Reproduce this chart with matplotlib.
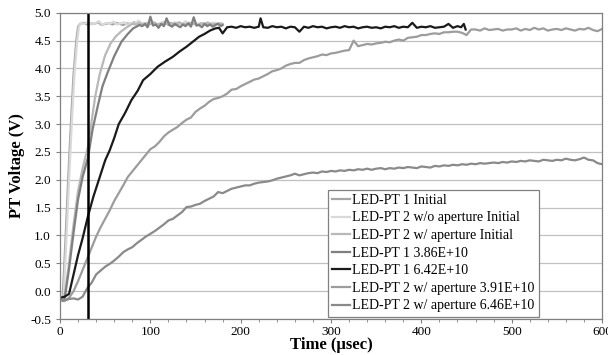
import numpy as np
import matplotlib.pyplot as plt

plt.rcParams['font.family'] = ['Liberation Serif', 'DejaVu Serif']

# ---- data (time in usec, voltage in V) ----
t_pt1_init = [0, 2, 3, 6, 9, 12, 15, 18, 20, 22, 26, 30, 34, 38, 42, 46, 50, 54, 58, 62, 66, 70,
              74, 78, 82, 86, 90, 94, 98, 102, 106, 110, 114, 118, 122, 126, 130, 134, 138,
              142, 146, 150, 154, 158, 162, 166, 170, 174, 178]
v_pt1_init = [-0.15, -0.14, -0.1, 0.9, 2.0, 3.0, 3.9, 4.5, 4.75, 4.8, 4.82, 4.79, 4.81, 4.8,
              4.83, 4.78, 4.8, 4.81, 4.79, 4.82, 4.8, 4.78, 4.81, 4.8, 4.83, 4.79, 4.8, 4.81,
              4.78, 4.82, 4.8, 4.79, 4.81, 4.8, 4.82, 4.78, 4.8, 4.81, 4.79, 4.82, 4.8, 4.8,
              4.78, 4.81, 4.8, 4.79, 4.82, 4.8, 4.8]

t_pt2_noap_init = [0, 2, 4, 7, 10, 13, 16, 19, 21, 23, 27, 31, 35, 39, 43, 47, 51, 55, 59, 63,
                   67, 71, 75, 79, 83, 87, 91, 95, 99, 103, 107, 111, 115, 119, 123, 127, 131,
                   135, 139, 143, 147, 151, 155, 159, 163, 167, 171, 175, 179]
v_pt2_noap_init = [-0.16, -0.15, -0.1, 0.9, 2.0, 3.0, 3.9, 4.5, 4.75, 4.82, 4.8, 4.84, 4.79,
                   4.81, 4.85, 4.78, 4.82, 4.8, 4.84, 4.79, 4.81, 4.83, 4.78, 4.82, 4.8, 4.86,
                   4.79, 4.81, 4.83, 4.8, 4.78, 4.82, 4.84, 4.8, 4.79, 4.83, 4.81, 4.8, 4.85,
                   4.78, 4.82, 4.8, 4.81, 4.79, 4.83, 4.8, 4.82, 4.8, 4.81]

t_pt2_ap_init = [0, 3, 5, 10, 15, 20, 25, 31, 35, 39, 44, 50, 56, 62, 68, 74, 80, 84, 88, 92,
                 96, 100, 104, 108, 112, 116, 120, 124, 128, 132, 136, 140, 144, 148, 152, 156,
                 160, 164, 168, 172, 176, 180]
v_pt2_ap_init = [-0.15, -0.16, -0.1, 0.5, 1.2, 1.8, 2.2, 2.6, 3.05, 3.5, 3.9, 4.24, 4.45, 4.58,
                 4.67, 4.74, 4.8, 4.79, 4.82, 4.78, 4.81, 4.8, 4.83, 4.79, 4.8, 4.82, 4.78,
                 4.81, 4.8, 4.83, 4.79, 4.8, 4.82, 4.8, 4.78, 4.81, 4.8, 4.82, 4.79, 4.8, 4.81, 4.8]

t_pt1_386 = [0, 3, 5, 10, 15, 20, 25, 31, 36, 42, 47, 53, 60, 68, 75, 81, 88, 91, 94, 97, 100,
             103, 106, 109, 112, 115, 118, 121, 124, 127, 130, 133, 136, 139, 142, 145, 148,
             151, 154, 157, 160, 163, 166, 169, 172, 175, 178, 180]
v_pt1_386 = [-0.12, -0.18, -0.15, 0.4, 1.05, 1.65, 2.05, 2.4, 2.9, 3.34, 3.68, 3.94, 4.22, 4.48,
             4.62, 4.72, 4.78, 4.76, 4.8, 4.74, 4.93, 4.77, 4.79, 4.73, 4.8, 4.76, 4.9, 4.78,
             4.75, 4.8, 4.77, 4.74, 4.79, 4.76, 4.81, 4.75, 4.92, 4.77, 4.78, 4.74, 4.8, 4.76,
             4.79, 4.75, 4.78, 4.8, 4.76, 4.78]

t_pt1_642 = [0, 5, 10, 15, 20, 25, 31, 37, 44, 50, 55, 60, 65, 72, 79, 86, 92, 100, 108, 116,
             125, 132, 140, 147, 154, 160, 166, 172, 176, 180, 185, 190, 195, 200, 205, 210,
             215, 220, 222, 225, 230, 235, 240, 245, 250, 255, 260, 265, 270, 275, 280, 285,
             290, 295, 300, 305, 310, 315, 320, 325, 330, 335, 340, 345, 350, 355, 360, 365,
             370, 375, 380, 385, 390, 395, 400, 405, 410, 415, 420, 425, 430, 435, 440, 444,
             447, 449]
v_pt1_642 = [-0.12, -0.1, -0.05, 0.3, 0.65, 0.95, 1.35, 1.7, 2.05, 2.35, 2.53, 2.75, 3.0, 3.2,
             3.43, 3.6, 3.79, 3.9, 4.03, 4.12, 4.21, 4.3, 4.39, 4.48, 4.57, 4.62, 4.68, 4.72,
             4.73, 4.63, 4.74, 4.75, 4.73, 4.76, 4.74, 4.75, 4.73, 4.75, 4.9, 4.74, 4.73, 4.76,
             4.74, 4.75, 4.72, 4.75, 4.74, 4.66, 4.75, 4.73, 4.76, 4.74, 4.75, 4.72, 4.74,
             4.75, 4.73, 4.76, 4.74, 4.75, 4.72, 4.74, 4.75, 4.73, 4.74, 4.72, 4.75, 4.74,
             4.76, 4.73, 4.75, 4.74, 4.82, 4.73, 4.75, 4.74, 4.76, 4.73, 4.74, 4.75, 4.8,
             4.73, 4.76, 4.74, 4.8, 4.7]

t_pt2_ap_391 = list(range(0, 605, 5))
v_pt2_ap_391 = [-0.15, -0.17, -0.12, 0.0, 0.18, 0.38, 0.58, 0.78, 0.98, 1.15, 1.3, 1.45, 1.62,
                1.76, 1.9, 2.05, 2.15, 2.25, 2.35, 2.45, 2.55, 2.6, 2.68, 2.78, 2.85, 2.9, 2.95,
                3.02, 3.08, 3.12, 3.22, 3.28, 3.33, 3.4, 3.45, 3.47, 3.5, 3.55, 3.62, 3.63, 3.68,
                3.72, 3.76, 3.8, 3.82, 3.86, 3.9, 3.95, 3.97, 4.0, 4.05, 4.08, 4.1, 4.1, 4.15,
                4.18, 4.2, 4.22, 4.25, 4.24, 4.27, 4.28, 4.3, 4.32, 4.33, 4.5, 4.4, 4.42, 4.44,
                4.43, 4.45, 4.46, 4.48, 4.47, 4.5, 4.52, 4.5, 4.55, 4.56, 4.57, 4.6, 4.6, 4.62,
                4.63, 4.62, 4.65, 4.65, 4.66, 4.66, 4.64, 4.6, 4.7, 4.7, 4.68, 4.72, 4.69, 4.7,
                4.71, 4.68, 4.7, 4.7, 4.72, 4.68, 4.71, 4.69, 4.73, 4.7, 4.72, 4.68, 4.7, 4.71,
                4.69, 4.72, 4.7, 4.68, 4.71, 4.7, 4.73, 4.69, 4.67, 4.71]

t_pt2_ap_646 = list(range(0, 605, 5))
v_pt2_ap_646 = [-0.15, -0.17, -0.14, -0.13, -0.15, -0.1, 0.05, 0.15, 0.3, 0.37, 0.44, 0.49,
                0.55, 0.62, 0.7, 0.75, 0.79, 0.86, 0.92, 0.98, 1.03, 1.08, 1.14, 1.2, 1.27,
                1.3, 1.36, 1.42, 1.51, 1.52, 1.55, 1.57, 1.62, 1.66, 1.7, 1.78, 1.76, 1.8, 1.84,
                1.86, 1.88, 1.9, 1.9, 1.93, 1.95, 1.96, 1.97, 1.99, 2.02, 2.04, 2.06, 2.08,
                2.11, 2.08, 2.1, 2.12, 2.13, 2.12, 2.15, 2.14, 2.16, 2.15, 2.17, 2.16, 2.18,
                2.17, 2.19, 2.18, 2.2, 2.18, 2.2, 2.21, 2.19, 2.21, 2.2, 2.22, 2.21, 2.23,
                2.22, 2.21, 2.24, 2.23, 2.22, 2.25, 2.24, 2.26, 2.25, 2.27, 2.26, 2.28, 2.27,
                2.29, 2.28, 2.3, 2.29, 2.3, 2.31, 2.3, 2.32, 2.31, 2.33, 2.32, 2.34, 2.33,
                2.35, 2.34, 2.33, 2.36, 2.35, 2.34, 2.36, 2.35, 2.38, 2.36, 2.35, 2.37, 2.4,
                2.36, 2.35, 2.3, 2.28]

labels = ["LED-PT 1 Initial", "LED-PT 2 w/o aperture Initial", "LED-PT 2 w/ aperture Initial",
          "LED-PT 1 3.86E+10", "LED-PT 1 6.42E+10", "LED-PT 2 w/ aperture 3.91E+10",
          "LED-PT 2 w/ aperture 6.46E+10"]
marker_time = 31

series = [(t_pt1_init, v_pt1_init), (t_pt2_noap_init, v_pt2_noap_init),
          (t_pt2_ap_init, v_pt2_ap_init), (t_pt1_386, v_pt1_386), (t_pt1_642, v_pt1_642),
          (t_pt2_ap_391, v_pt2_ap_391), (t_pt2_ap_646, v_pt2_ap_646)]
colors = ["#a6a6a6", "#d9d9d9", "#b8b8b8", "#7f7f7f", "#1a1a1a", "#9c9c9c", "#8a8a8a"]

fig = plt.figure(figsize=(6.08, 3.55), dpi=100)
ax = fig.add_axes([0.0987, 0.1014, 0.8915, 0.8626])

for (t, v), c, lab in zip(series, colors, labels):
    ax.plot(t, v, color=c, lw=1.6, label=lab)

ax.axvline(marker_time, color="black", lw=1.8)

ax.set_xlim(0, 600)
ax.set_ylim(-0.5, 5.0)
ax.set_xticks(np.arange(0, 601, 100))
ax.set_xticks(np.arange(0, 601, 20), minor=True)
ax.set_yticks(np.arange(-0.5, 5.01, 0.5))
ax.set_yticklabels([f"{y:.1f}" for y in np.arange(-0.5, 5.01, 0.5)])
ax.yaxis.grid(True, color="#c0c0c0", lw=0.9)
ax.set_axisbelow(True)
ax.tick_params(axis="both", labelsize=9.5, direction="out", length=3, color="#808080")
ax.tick_params(axis="x", pad=2)
ax.tick_params(axis="x", which="minor", length=2, color="#808080")
for s in ax.spines.values():
    s.set_color("#808080")
    s.set_linewidth(0.9)

ax.set_xlabel("Time (μsec)", fontsize=12, fontweight="bold", labelpad=-1)
ax.set_ylabel("PT Voltage (V)", fontsize=12, fontweight="bold", labelpad=4)

leg = ax.legend(loc="lower left", bbox_to_anchor=(0.494, 0.008), fontsize=10,
                fancybox=False, framealpha=1, edgecolor="#808080", handlelength=1.3,
                handletextpad=0.15, labelspacing=0.33, borderpad=0.3, borderaxespad=0)
leg.get_frame().set_linewidth(0.9)

plt.savefig("out.png", dpi=100)
